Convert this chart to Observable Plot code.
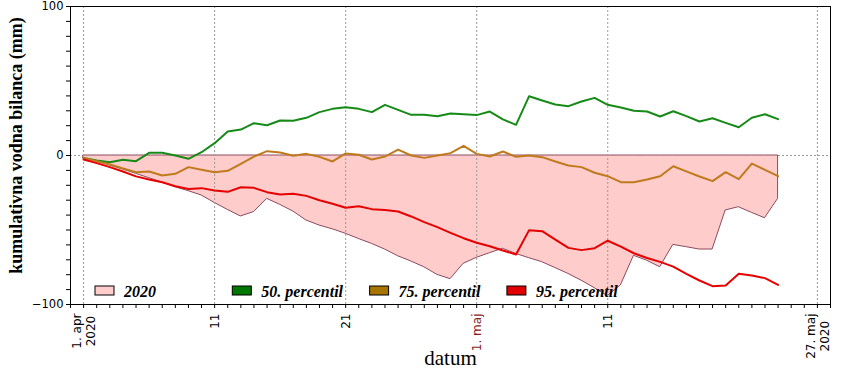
<!DOCTYPE html>
<html>
<head>
<meta charset="utf-8">
<script src="https://cdn.jsdelivr.net/npm/d3@7"></script>
<script src="https://cdn.jsdelivr.net/npm/@observablehq/plot@0.6"></script>
<style>
  html, body { margin: 0; padding: 0; background: white; }
  #chart { width: 850px; height: 370px; }
</style>
</head>
<body>
<div id="chart"></div>
<script>
// ---- data ----
const startDate = new Date(Date.UTC(2020, 3, 1));   // 1. apr 2020
const endDate = new Date(Date.UTC(2020, 4, 25));    // exclusive: last point 24. maj
const dates = d3.utcDay.range(startDate, endDate);

const y2020 = [-2.2, -4, -6.7, -9.4, -12.3, -15.2, -18.1, -21.3, -23.9, -26.8,
  -31.8, -36.5, -40.9, -38, -29.1, -33.1, -37.6, -43.6, -47, -49.5,
  -52.5, -56, -59.3, -63.1, -67.6, -71.1, -75, -80.1, -83, -72.7,
  -68.7, -65.6, -62.6, -66, -68.9, -71.6, -75.5, -79.5, -84, -89,
  -94.3, -87.2, -67.3, -70.6, -75, -60, -61.5, -63.1, -63.1, -36.9,
  -34.7, -38.5, -42.1, -29.1];

const p50 = [-1.6, -3.4, -4.5, -2.9, -3.8, 1.8, 1.8, 0, -2.2, 2.2,
  8.3, 16.1, 17.4, 21.7, 20.3, 23.5, 23.3, 25.3, 29.1, 31.3,
  32.4, 31.3, 29.1, 34, 30.6, 27.3, 27.3, 26.4, 28.2, 27.7,
  27.1, 29.5, 24.2, 20.6, 39.8, 36.9, 34.2, 33.1, 36.2, 38.7,
  34, 32.2, 30, 29.5, 26.2, 29.7, 26.4, 22.8, 25, 21.9,
  19, 25.3, 27.7, 24.4];

const p75 = [-1.6, -3.8, -6, -8.7, -11.2, -10.7, -13.4, -12.3, -7.8, -9.6,
  -11.2, -10.3, -5.6, -0.7, 2.9, 2, -0.2, 1.1, -0.9, -4,
  1.4, 0.5, -2.7, -0.7, 4, 0, -1.6, 0, 1.6, 6.5,
  1.1, -0.7, 2.7, -0.9, 0, -1.1, -4, -6.7, -7.8, -11.6,
  -13.9, -17.9, -17.9, -16.1, -13.9, -7.2, -10.7, -14.1, -17.2, -11.2,
  -15.9, -5.4, -9.6, -13.9];

const p95 = [-2.7, -5.1, -7.8, -10.7, -14, -16.1, -17.9, -20.6, -22.5, -21.9,
  -23.5, -24.4, -21.3, -21.7, -24.6, -26.2, -25.7, -27.1, -30, -32.4,
  -35.1, -34, -36, -36.5, -37.6, -40.9, -44.7, -48.1, -51.9, -55.5,
  -58.6, -60.9, -63.8, -66.4, -50.1, -50.8, -56.4, -62, -63.5, -62.2,
  -57.2, -61.2, -65.6, -68.8, -71.4, -74.6, -79.4, -83.9, -87.7, -87.2,
  -79.4, -80.5, -82.3, -86.8];

const tickDates = [new Date(Date.UTC(2020,3,1)), new Date(Date.UTC(2020,3,11)), new Date(Date.UTC(2020,3,21)),
  new Date(Date.UTC(2020,4,1)), new Date(Date.UTC(2020,4,11)), new Date(Date.UTC(2020,4,27))];
const tickLabels = ["1. apr\n2020", "11", "21", "1. maj", "11", "27. maj\n2020"];
const tickColors = ["black", "black", "black", "#8b1a1a", "black", "black"];

const yTicksMajor = [-100, 0, 100];
const seriesNames = ["2020", "50. percentil", "75. percentil", "95. percentil"];
const seriesColors = ["#ffcccc", "#007800", "#a87400", "#e00000"];
const lineColors = ["#168a16", "#c07a1e", "#e60000"];

// ---- build ----
const rows = dates.map((date, i) => ({date, v2020: y2020[i], p50: p50[i], p75: p75[i], p95: p95[i]}));
const xDomain = [new Date(Date.UTC(2020, 2, 31)), new Date(Date.UTC(2020, 4, 28))];
const allDays = d3.utcDay.range(xDomain[0], d3.utcDay.offset(xDomain[1], 1));
const xLabels = tickDates.map((date, i) => ({date, label: tickLabels[i], color: tickColors[i]}));

const tickFont = "12px 'DejaVu Sans'";
const ctx = document.createElement("canvas").getContext("2d");
ctx.font = tickFont;
const maxLen = s => d3.max(s.split("\n"), l => ctx.measureText(l).width);
const labelTop = 9;

const labelMarks = xLabels.map(d => {
  const multi = d.label.includes("\n");
  return Plot.text([d], {
    x: "date", frameAnchor: "bottom", text: "label", rotate: -90,
    textAnchor: multi ? "middle" : "end", lineAnchor: "middle",
    dy: multi ? labelTop + maxLen(d.label) / 2 : labelTop,
    fill: d.color, fontSize: 12, fontFamily: "DejaVu Sans", lineHeight: 1.15
  });
});

const chart = Plot.plot({
  width: 850, height: 370,
  marginLeft: 70, marginRight: 20, marginTop: 6, marginBottom: 66,
  x: {type: "utc", domain: xDomain, axis: null},
  y: {domain: [-100, 100], axis: null},
  style: {fontFamily: "DejaVu Sans", fontSize: "12px", background: "white", overflow: "visible"},
  marks: [
    Plot.gridY([0], {stroke: "#999", strokeOpacity: 1, strokeDasharray: "2,2"}),
    Plot.areaY(rows, {x: "date", y1: 0, y2: "v2020", fill: seriesColors[0], stroke: "#8b4a5e", strokeWidth: 1, curve: "linear"}),
    Plot.gridX(tickDates, {stroke: "#999", strokeOpacity: 1, strokeDasharray: "2,2"}),
    Plot.lineY(rows, {x: "date", y: "p50", stroke: lineColors[0], strokeWidth: 2}),
    Plot.lineY(rows, {x: "date", y: "p75", stroke: lineColors[1], strokeWidth: 2}),
    Plot.lineY(rows, {x: "date", y: "p95", stroke: lineColors[2], strokeWidth: 2}),
    Plot.frame({stroke: "black", strokeWidth: 1}),
    Plot.axisX({ticks: allDays, tickSize: 4, tickFormat: () => "", label: null, stroke: "black"}),
    Plot.axisY({ticks: d3.range(-100, 101, 10), tickSize: 4, tickPadding: 3, label: null, fontSize: 11.5,
      tickFormat: d => yTicksMajor.includes(d) ? (d < 0 ? "\u2212" + Math.abs(d) : String(d)) : ""}),
    ...labelMarks,
    Plot.text(["kumulativna vodna bilanca (mm)"], {frameAnchor: "left", textAnchor: "middle", lineAnchor: "middle",
      dx: -54, dy: -10, rotate: -90,
      text: d => d, fontFamily: "Liberation Serif", fontWeight: "bold", fontSize: 18, fill: "black"}),
    Plot.text(["datum"], {frameAnchor: "bottom", dy: 54, text: d => d, lineAnchor: "middle", textAnchor: "middle",
      fontFamily: "Liberation Serif", fontSize: 21, fill: "black"})
  ]
});

// legend inside the plot area
const svg = d3.select(chart);
const leg = svg.append("g").attr("text-anchor", "start");
seriesNames.forEach((name, i) => {
  const x0 = 95 + i * 137.3;
  leg.append("rect").attr("x", x0).attr("y", 286).attr("width", 19).attr("height", 9)
    .attr("fill", seriesColors[i]).attr("stroke", "black").attr("stroke-width", 1);
  leg.append("text").attr("x", x0 + 29).attr("y", 297).text(name)
    .attr("text-anchor", "start")
    .attr("font-family", "Liberation Serif").attr("font-weight", "bold").attr("font-style", "italic")
    .attr("font-size", 16).attr("fill", "black");
});

document.getElementById("chart").appendChild(chart);
</script>
</body>
</html>
